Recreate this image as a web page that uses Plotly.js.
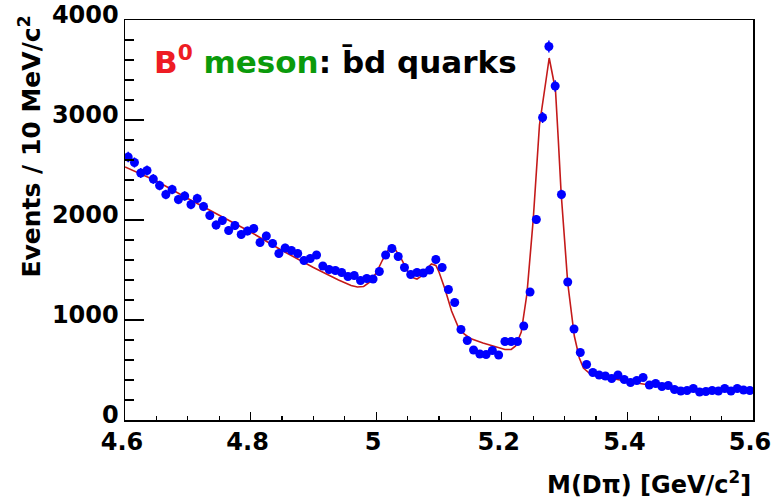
<!DOCTYPE html>
<html>
<head>
<meta charset="utf-8">
<script src="https://cdn.plot.ly/plotly-3.0.1.min.js"></script>
<style>
  html, body { margin: 0; padding: 0; background: #ffffff; }
  #chart { width: 773px; height: 503px; }
</style>
</head>
<body>
<div id="chart"></div>
<script>
// Bin centres of M(D pi) histogram [GeV/c^2], 10 MeV bins from 4.6 to 5.6
const binCenters = [
  4.605, 4.615, 4.625, 4.635, 4.645, 4.655, 4.665, 4.675, 4.685, 4.695,
  4.705, 4.715, 4.725, 4.735, 4.745, 4.755, 4.765, 4.775, 4.785, 4.795,
  4.805, 4.815, 4.825, 4.835, 4.845, 4.855, 4.865, 4.875, 4.885, 4.895,
  4.905, 4.915, 4.925, 4.935, 4.945, 4.955, 4.965, 4.975, 4.985, 4.995,
  5.005, 5.015, 5.025, 5.035, 5.045, 5.055, 5.065, 5.075, 5.085, 5.095,
  5.105, 5.115, 5.125, 5.135, 5.145, 5.155, 5.165, 5.175, 5.185, 5.195,
  5.205, 5.215, 5.225, 5.235, 5.245, 5.255, 5.265, 5.275, 5.285, 5.295,
  5.305, 5.315, 5.325, 5.335, 5.345, 5.355, 5.365, 5.375, 5.385, 5.395,
  5.405, 5.415, 5.425, 5.435, 5.445, 5.455, 5.465, 5.475, 5.485, 5.495,
  5.505, 5.515, 5.525, 5.535, 5.545, 5.555, 5.565, 5.575, 5.585, 5.595
];

// Events per 10 MeV/c^2 (data points)
const events = [
  2630, 2575, 2470, 2495, 2410, 2345, 2255, 2305, 2205, 2240,
  2155, 2215, 2135, 2045, 1950, 1995, 1895, 1945, 1855, 1890,
  1915, 1775, 1840, 1765, 1665, 1720, 1695, 1665, 1595, 1615,
  1650, 1540, 1505, 1495, 1475, 1435, 1445, 1395, 1415, 1410,
  1485, 1650, 1715, 1635, 1525, 1455, 1475, 1470, 1500, 1605,
  1525, 1305, 1175, 905, 795, 700, 660, 655, 695, 650,
  785, 785, 785, 940, 1280, 2005, 3025, 3735, 3340, 2255,
  1380, 910, 675, 555, 475, 450, 440, 415, 450, 405,
  375, 395, 425, 350, 365, 335, 345, 305, 290, 295,
  315, 280, 285, 295, 290, 315, 290, 315, 300, 295
];

// Fit curve
const fitMass = [
  4.600, 4.650, 4.700, 4.750, 4.800, 4.850, 4.900, 4.940, 4.960, 4.970,
  4.980, 4.990, 5.000, 5.010, 5.020, 5.025, 5.030, 5.040, 5.050, 5.060,
  5.065, 5.070, 5.080, 5.088, 5.095, 5.100, 5.110, 5.120, 5.130, 5.140,
  5.150, 5.170, 5.190, 5.205, 5.215, 5.222, 5.231, 5.240, 5.250, 5.260,
  5.270, 5.2755, 5.2805, 5.2855, 5.290, 5.2945, 5.300, 5.305, 5.3155, 5.3235,
  5.330, 5.340, 5.360, 5.400, 5.450, 5.500, 5.550, 5.600
];
const fitEvents = [
  2530, 2390, 2215, 2045, 1880, 1695, 1525, 1400, 1345, 1330,
  1335, 1380, 1470, 1600, 1710, 1730, 1710, 1610, 1490, 1420,
  1410, 1430, 1510, 1560, 1545, 1480, 1300, 1090, 940, 860,
  815, 770, 730, 705, 705, 740, 880, 1260, 2000, 2950,
  3380, 3620, 3460, 3300, 2800, 2270, 1800, 1370, 840, 620,
  520, 465, 435, 385, 335, 307, 297, 290
];

const xTickVals = [4.6, 4.8, 5.0, 5.2, 5.4, 5.6];
const xTickText = ['4.6', '4.8', '5', '5.2', '5.4', '5.6'];
const yTickVals = [0, 1000, 2000, 3000, 4000];
const yTickText = ['0', '1000', '2000', '3000', '4000'];

const FONT = 'DejaVu Sans';

const fitTrace = {
  x: fitMass, y: fitEvents, type: 'scatter', mode: 'lines',
  line: { color: '#c41a1a', width: 1.6 },
  hoverinfo: 'skip'
};
const dataTrace = {
  x: binCenters, y: events, type: 'scatter', mode: 'markers',
  marker: { color: '#0000ff', size: 9 },
  error_y: { type: 'sqrt', visible: true, color: '#0000ff', thickness: 1.5, width: 0 }
};

const layout = {
  width: 773, height: 503,
  margin: { l: 125, r: 20, t: 20, b: 83 },
  paper_bgcolor: '#ffffff', plot_bgcolor: '#ffffff',
  showlegend: false,
  xaxis: {
    range: [4.59995, 5.60005], showgrid: false, zeroline: false,
    showline: true, linecolor: '#000', linewidth: 1.5, mirror: true,
    ticks: 'inside', ticklen: 8, tickwidth: 1.2, tickcolor: '#000',
    tickmode: 'array', tickvals: xTickVals, ticktext: xTickText,
    ticklabeloverflow: 'allow', ticklabelshift: -3,
    tickfont: { family: FONT, size: 24, color: '#000', weight: 'bold' },
    minor: { dtick: 0.05, tick0: 4.6, ticks: 'inside', ticklen: 4, tickwidth: 1.2, tickcolor: '#000', showgrid: false }
  },
  yaxis: {
    range: [0, 4000], showgrid: false, zeroline: false,
    showline: true, linecolor: '#000', linewidth: 1.5, mirror: true,
    ticks: 'inside', ticklen: 19, tickwidth: 1.2, tickcolor: '#000',
    tickmode: 'array', tickvals: yTickVals, ticktext: yTickText,
    ticklabeloverflow: 'allow', ticklabelshift: -5,
    tickfont: { family: FONT, size: 24, color: '#000', weight: 'bold' },
    minor: { dtick: 200, tick0: 0, ticks: 'inside', ticklen: 9, tickwidth: 1.2, tickcolor: '#000', showgrid: false }
  },
  annotations: [
    {
      xref: 'paper', yref: 'paper', x: 0.043, y: 0.9,
      xanchor: 'left', yanchor: 'middle', showarrow: false,
      text: '<span style="color:#ee1c24">B<sup>0</sup></span> <span style="color:#0b9a0b">meson</span>: b\u0304d quarks',
      font: { family: FONT, size: 31, color: '#000', weight: 'bold' }
    },
    {
      xref: 'paper', yref: 'paper', x: 1.0, y: -0.1575,
      xanchor: 'right', yanchor: 'middle', showarrow: false,
      text: 'M(D\u03c0) [GeV/c<sup>2</sup>]',
      font: { family: FONT, size: 24, color: '#000', weight: 'bold' }
    },
    {
      xref: 'paper', yref: 'paper', x: -0.152, y: 1.015,
      xanchor: 'center', yanchor: 'top', showarrow: false, textangle: -90,
      text: 'Events / 10 MeV/c<sup>2</sup>',
      font: { family: FONT, size: 25, color: '#000', weight: 'bold' }
    }
  ]
};

Plotly.newPlot('chart', [fitTrace, dataTrace], layout, { staticPlot: true, displayModeBar: false });
</script>
</body>
</html>
